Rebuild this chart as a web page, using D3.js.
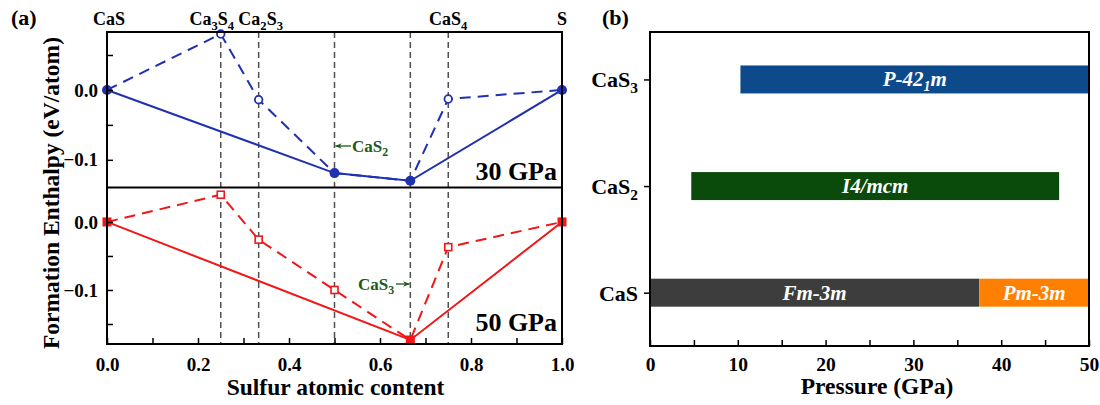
<!DOCTYPE html>
<html>
<head>
<meta charset="utf-8">
<script src="https://cdn.jsdelivr.net/npm/d3@7"></script>
<style>
body { margin: 0; background: #fff; }
svg text { font-family: "Liberation Serif", "Times New Roman", serif; font-weight: bold; }
</style>
</head>
<body>
<div id="chart"></div>
<script>
// panel (a) data
const sulfur = [0, 0.25, 1 / 3, 0.5, 2 / 3, 0.75, 1];
const enth30 = [0, 0.080, -0.014, -0.119, -0.130, -0.013, 0];
const enth50 = [0, 0.040, -0.026, -0.100, -0.1735, -0.037, 0];
const hull30 = [0, 3, 4, 6];   // stable points (filled)
const hull50 = [0, 4, 6];
const compX = [0, 0.25, 1 / 3, 0.75, 1];
const compLabels = [["CaS"], ["Ca", "3", "S", "4"], ["Ca", "2", "S", "3"], ["CaS", "4"], ["S"]];
const guideX = [0.25, 1 / 3, 0.5, 2 / 3, 0.75];
const xTicks = [0, 0.2, 0.4, 0.6, 0.8, 1.0];

// panel (b) data
const compounds = ["CaS", "CaS2", "CaS3"];
const phaseComp = ["CaS", "CaS", "CaS2", "CaS3"];
const phaseFrom = [0, 37.5, 4.7, 10.3];
const phaseTo = [37.5, 50, 46.6, 50];
const phaseName = ["Fm-3m", "Pm-3m", "I4/mcm", "P-42_1m"];
const phaseColor = ["#3d3d3d", "#ff8000", "#0a4a0a", "#0d4a8c"];
const pTicks = [0, 10, 20, 30, 40, 50];

const BLUE = "#1f30b0", RED = "#f21616", GREEN = "#1c5a1c";

const svg = d3.select("#chart").append("svg").attr("width", 1100).attr("height", 405);

svg.append("defs").append("marker").attr("id", "arr").attr("viewBox", "0 0 10 10")
    .attr("refX", 9).attr("refY", 5).attr("markerWidth", 7).attr("markerHeight", 7)
    .attr("markerUnits", "userSpaceOnUse").attr("orient", "auto")
    .append("path").attr("d", "M0,1 L10,5 L0,9 L3,5 Z").attr("fill", GREEN);

function sub(sel, parts, fs) {
    // parts: text, subscript, text, subscript ...
    parts.forEach((p, i) => {
        if (i % 2 == 0) sel.append("tspan").text(p).attr("dy", i == 0 ? null : -fs * 0.25).attr("font-size", fs);
        else sel.append("tspan").text(p).attr("font-size", fs * 0.7).attr("dy", fs * 0.25);
    });
}

// ---------- panel (a)
let L = 107, R = 562, T = 32, M = 187.5, B = 344;
let x = d3.scaleLinear().domain([0, 1]).range([L, R]);
let yTop = d3.scaleLinear().domain([-0.1396, 0.0829]).range([M, T]);
let yBot = d3.scaleLinear().domain([-0.1794, 0.0506]).range([B, M]);

let ga = svg.append("g");

ga.selectAll("line.guide").data(guideX).join("line")
    .attr("x1", d => x(d)).attr("x2", d => x(d)).attr("y1", T).attr("y2", B)
    .attr("stroke", "#505050").attr("stroke-width", 1.5).attr("stroke-dasharray", "6,4");

function drawSet(y, vals, hull, color, marker) {
    let pts = sulfur.map((s, i) => [x(s), y(vals[i])]);
    let line = d3.line();
    ga.append("path").attr("d", line(pts)).attr("fill", "none").attr("stroke", color)
        .attr("stroke-width", 2).attr("stroke-dasharray", "11,7");
    ga.append("path").attr("d", line(hull.map(i => pts[i]))).attr("fill", "none").attr("stroke", color)
        .attr("stroke-width", 2);
    pts.forEach((p, i) => {
        let filled = hull.includes(i);
        if (marker == "circle") {
            ga.append("circle").attr("cx", p[0]).attr("cy", p[1]).attr("r", filled ? 5 : 3.8)
                .attr("fill", filled ? color : "#fff").attr("stroke", color).attr("stroke-width", filled ? 0 : 1.8);
        } else {
            let s = filled ? 9 : 7;
            ga.append("rect").attr("x", p[0] - s / 2).attr("y", p[1] - s / 2).attr("width", s).attr("height", s)
                .attr("fill", filled ? color : "#fff").attr("stroke", color).attr("stroke-width", filled ? 0 : 1.6);
        }
    });
}
drawSet(yTop, enth30, hull30, BLUE, "circle");
drawSet(yBot, enth50, hull50, RED, "square");

// frames
ga.append("rect").attr("x", L).attr("y", T).attr("width", R - L).attr("height", B - T)
    .attr("fill", "none").attr("stroke", "#000").attr("stroke-width", 2);
ga.append("line").attr("x1", L).attr("x2", R).attr("y1", M).attr("y2", M).attr("stroke", "#000").attr("stroke-width", 2);

// axes
let xAxis = d3.axisBottom(x).tickValues(d3.range(0, 1.01, 0.1)).tickSizeInner(-6).tickSizeOuter(0)
    .tickFormat(d => xTicks.some(t => Math.abs(t - d) < 1e-6) ? d3.format(".1f")(d) : "");
let gx = ga.append("g").attr("transform", `translate(0,${B})`).call(xAxis);
gx.selectAll("text").attr("font-size", 19).attr("y", 27).attr("dy", null).attr("fill", "#000");

function yAxis(sc, maj, mnr) {
    let g = ga.append("g").attr("transform", `translate(${L},0)`)
        .call(d3.axisLeft(sc).tickValues(maj.concat(mnr)).tickSizeInner(-6).tickSizeOuter(0)
            .tickFormat(d => maj.includes(d) ? d3.format(".1f")(d) : ""));
    g.selectAll("text").attr("font-size", 19).attr("x", -9).attr("fill", "#000");
    return g;
}
[gx, yAxis(yTop, [0, -0.1], [0.05, -0.05]), yAxis(yBot, [0, -0.1], [-0.05, -0.15])].forEach(g => {
    g.select(".domain").remove();
    g.selectAll("line").attr("stroke-width", 1.5);
    g.selectAll("text").filter(function () { return this.textContent == ""; }).remove();
});

// composition labels on top
const compShift = [2, -9, 2, 0, 0];
compX.forEach((c, i) => {
    let t = ga.append("text").attr("x", x(c) + compShift[i]).attr("y", 25).attr("text-anchor", "middle");
    sub(t, compLabels[i], 18);
});

// pressure labels
ga.append("text").attr("x", 557).attr("y", 180).attr("text-anchor", "end").attr("font-size", 26).text("30 GPa");
ga.append("text").attr("x", 557).attr("y", 331).attr("text-anchor", "end").attr("font-size", 26).text("50 GPa");

// annotations
let a1 = ga.append("text").attr("x", 352).attr("y", 152).attr("fill", GREEN);
sub(a1, ["CaS", "2"], 17);
ga.append("line").attr("x1", 351).attr("x2", x(0.5) + 1).attr("y1", 146).attr("y2", 146)
    .attr("stroke", GREEN).attr("stroke-width", 1.3).attr("marker-end", "url(#arr)");
let a2 = ga.append("text").attr("x", 358).attr("y", 290).attr("fill", GREEN);
sub(a2, ["CaS", "3"], 17);
ga.append("line").attr("x1", 396).attr("x2", x(2 / 3) - 1).attr("y1", 284).attr("y2", 284)
    .attr("stroke", GREEN).attr("stroke-width", 1.3).attr("marker-end", "url(#arr)");

ga.append("text").attr("x", 335.5).attr("y", 395).attr("text-anchor", "middle").attr("font-size", 23.5)
    .text("Sulfur atomic content");
ga.append("text").attr("transform", `translate(59,193) rotate(-90)`).attr("text-anchor", "middle")
    .attr("font-size", 23.5).text("Formation Enthalpy (eV/atom)");
svg.append("text").attr("x", 11).attr("y", 25).attr("font-size", 22).text("(a)");

// ---------- panel (b)
let L2 = 650, R2 = 1089, T2 = 32, B2 = 346;
let px = d3.scaleLinear().domain([0, 50]).range([L2, R2]);
let py = d3.scaleLinear().domain([0.5, 3.445]).range([B2, T2]);
let barH = 28;

let gb = svg.append("g");
gb.selectAll("rect.phase").data(phaseName).join("rect")
    .attr("x", (d, i) => px(phaseFrom[i]))
    .attr("width", (d, i) => px(phaseTo[i]) - px(phaseFrom[i]))
    .attr("y", (d, i) => py(compounds.indexOf(phaseComp[i]) + 1) - barH / 2)
    .attr("height", barH)
    .attr("fill", (d, i) => phaseColor[i]);

phaseName.forEach((n, i) => {
    let t = gb.append("text").attr("x", (px(phaseFrom[i]) + px(phaseTo[i])) / 2)
        .attr("y", py(compounds.indexOf(phaseComp[i]) + 1) + 7)
        .attr("text-anchor", "middle").attr("fill", "#fff").attr("font-style", "italic");
    if (n.includes("_")) {
        let [a, b] = n.split("_");
        t.append("tspan").text(a).attr("font-size", 21);
        t.append("tspan").text(b.slice(0, 1)).attr("font-size", 14).attr("dy", 5);
        t.append("tspan").text(b.slice(1)).attr("font-size", 21).attr("dy", -5);
    } else {
        t.attr("font-size", 21).text(n);
    }
});

gb.append("rect").attr("x", L2).attr("y", T2).attr("width", R2 - L2).attr("height", B2 - T2)
    .attr("fill", "none").attr("stroke", "#000").attr("stroke-width", 2);

let gpx = gb.append("g").attr("transform", `translate(0,${B2})`)
    .call(d3.axisBottom(px).tickValues(d3.range(0, 51, 5)).tickSizeInner(-6).tickSizeOuter(0)
        .tickFormat(d => pTicks.includes(d) ? d : ""));
gpx.selectAll("text").attr("font-size", 19.5).attr("y", 25).attr("dy", null).attr("fill", "#000");
let gpy = gb.append("g").attr("transform", `translate(${L2},0)`)
    .call(d3.axisLeft(py).tickValues([1, 2, 3]).tickSizeInner(6).tickSizeOuter(0).tickFormat(""));
[gpx, gpy].forEach(g => {
    g.select(".domain").remove();
    g.selectAll("line").attr("stroke-width", 1.5);
    g.selectAll("text").filter(function () { return this.textContent == ""; }).remove();
});
compounds.forEach((c, i) => {
    let t = gb.append("text").attr("x", 638).attr("y", py(i + 1) + 8).attr("text-anchor", "end");
    sub(t, c == "CaS" ? ["CaS"] : ["CaS", c.slice(3)], 22);
});

gb.append("text").attr("x", 877).attr("y", 394).attr("text-anchor", "middle").attr("font-size", 23.5)
    .text("Pressure (GPa)");
svg.append("text").attr("x", 602).attr("y", 25).attr("font-size", 22).text("(b)");
</script>
</body>
</html>
